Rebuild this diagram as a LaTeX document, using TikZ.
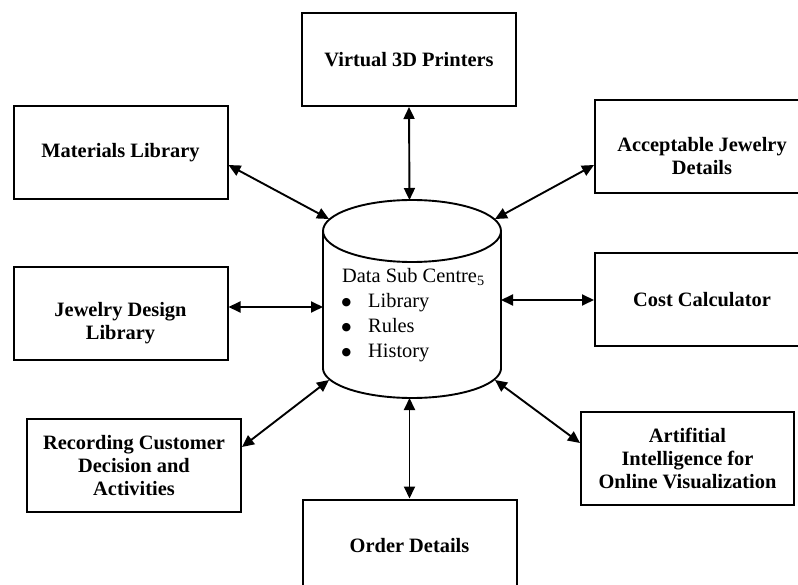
\documentclass[tikz,border=0pt]{standalone}
\usepackage{fontspec}
\setmainfont{Liberation Serif}
\newfontfamily\symfont{DejaVu Sans}
\usetikzlibrary{arrows.meta}
\newcommand{\dbbullet}{\makebox[26pt][l]{\hspace{-0.5pt}\raisebox{1.5pt}{\symfont\fontsize{11}{25}\selectfont ●}}}
\begin{document}
\begin{tikzpicture}[x=1pt,y=-1pt,
  box/.style={draw, line width=2pt, minimum width=214pt, minimum height=93pt, inner sep=0pt, align=center, font=\fontsize{20.4}{23}\selectfont\bfseries},
  link/.style={line width=1.9pt, {Triangle[length=12pt,width=11pt]}-{Triangle[length=12pt,width=11pt]}},
  cyl/.style={line width=1.9pt}]
\useasboundingbox (0,0) rectangle (798,585);
% boxes
\node[box] (vp) at (409,59.5) {Virtual 3D Printers};
\node[box] (ml) at (120.5,152.5) {Materials Library};
\node[box] (aj) at (702,146.5) {\rule{0pt}{34pt}Acceptable Jewelry\\Details};
\node[box] (cc) at (702,300) {Cost Calculator};
\node[box] (jd) at (120.5,313.5) {\rule{0pt}{34pt}Jewelry Design\\Library};
\node[box] (rc) at (134,465.5) {Recording Customer\\Decision and\\Activities};
\node[box, minimum width=213pt] (ai) at (687.5,458.5) {Artifitial\\Intelligence for\\Online Visualization};
\node[box] (od) at (409.5,546) {Order Details};
% cylinder
\draw[cyl] (412,231) ellipse [x radius=89, y radius=31];
\draw[cyl] (323,231) -- (323,368) -- plot[domain=180:360, samples=80] ({412+89*cos(\x)}, {368-30*sin(\x)}) -- (501,231);
\node[anchor=north west, inner sep=0pt, align=left, font=\fontsize{20.4}{25}\selectfont] (db) at (342,268)
  {Data Sub Centre\textsubscript{5}\\
   \dbbullet Library\\
   \dbbullet Rules\\
   \dbbullet History};
% connector end points on the cylinder
\coordinate (ctop) at (409.5,200);
\coordinate (cbot) at (409.5,398);
\coordinate (cml) at (329,219);
\coordinate (caj) at (495,219);
\coordinate (cjd) at (323,307);
\coordinate (ccc) at (501,300);
\coordinate (crc) at (329,380);
\coordinate (cai) at (495,380);
% connectors
\draw[link] (vp.south) -- (ctop);
\draw[link] (od.north) -- (cbot);
\draw[link] ([yshift=-12.5pt]ml.east) -- (cml);
\draw[link] ([yshift=-18.5pt]aj.west) -- (caj);
\draw[link] ([yshift=6.5pt]jd.east) -- (cjd);
\draw[link] (cc.west) -- (ccc);
\draw[link] ([yshift=18.5pt]rc.east) -- (crc);
\draw[link] ([yshift=15.5pt]ai.west) -- (cai);
\end{tikzpicture}
\end{document}
